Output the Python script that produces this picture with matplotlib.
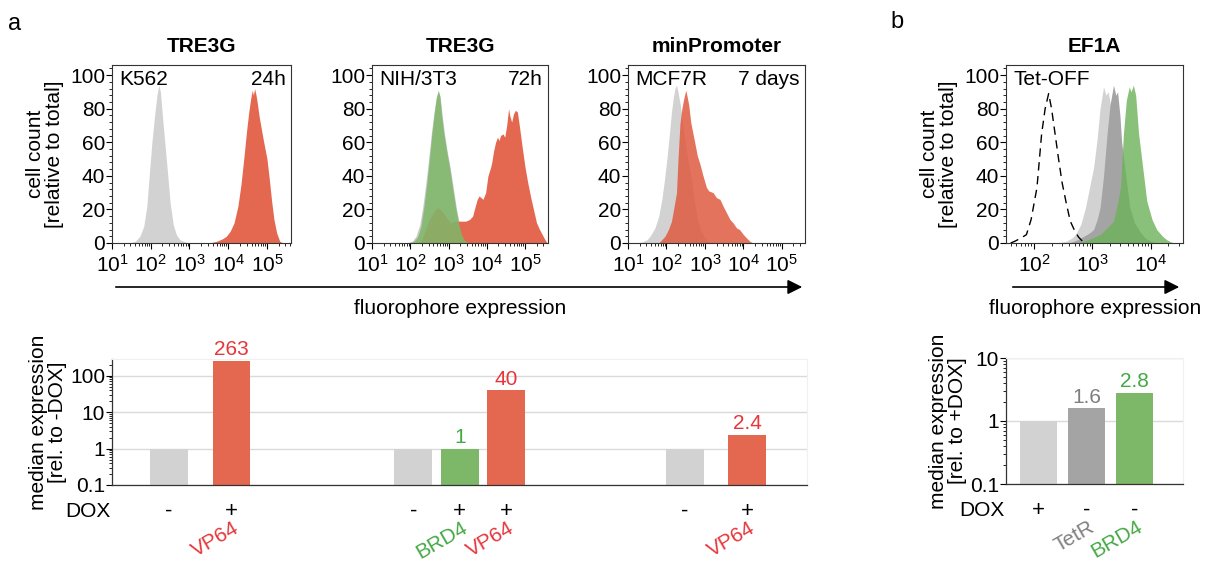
import matplotlib
matplotlib.use("Agg")
import matplotlib.pyplot as plt
import numpy as np
from matplotlib.ticker import MultipleLocator, LogLocator, NullFormatter, FixedLocator, FixedFormatter
from matplotlib.patches import FancyArrowPatch

plt.rcParams['font.family'] = ['Liberation Sans', 'DejaVu Sans']
plt.rcParams['font.size'] = 15

# ---------------- histogram data (log10 fluorescence, % of max) ----------------
k562_minus_logx = [1.45, 1.6, 1.72, 1.82, 1.9, 1.96, 2.03, 2.1, 2.16, 2.21, 2.25, 2.3, 2.37, 2.44, 2.5, 2.58, 2.66, 2.75, 2.9, 3.05]
k562_minus_y = [0, 1, 4, 10, 22, 40, 60, 76, 88, 94, 90, 76, 58, 40, 24, 11, 5, 2, 0.5, 0]
k562_vp64_logx = [3.5, 3.7, 3.85, 3.95, 4.05, 4.15, 4.25, 4.33, 4.4, 4.47, 4.53, 4.58, 4.62, 4.65, 4.68, 4.71, 4.74, 4.8, 4.9, 5.0, 5.06, 5.12, 5.18, 5.25, 5.33, 5.42]
k562_vp64_y = [0, 1, 2.5, 4, 7, 12, 22, 35, 50, 66, 78, 86, 91, 88, 92, 89, 85, 75, 62, 50, 38, 25, 14, 6, 1, 0]

nih_minus_logx = [1.9, 2.05, 2.15, 2.25, 2.33, 2.41, 2.48, 2.55, 2.62, 2.68, 2.73, 2.78, 2.84, 2.9, 2.97, 3.05, 3.13, 3.21, 3.3, 3.38, 3.48, 3.6]
nih_minus_y = [0, 1, 4, 11, 22, 36, 50, 65, 78, 87, 90, 87, 75, 64, 54, 44, 32, 20, 10, 4, 1, 0]
nih_brd4_logx = [1.95, 2.1, 2.2, 2.28, 2.36, 2.43, 2.5, 2.56, 2.62, 2.68, 2.73, 2.77, 2.82, 2.88, 2.95, 3.02, 3.1, 3.18, 3.26, 3.34, 3.42, 3.55]
nih_brd4_y = [0, 1, 4, 10, 22, 35, 50, 64, 76, 86, 91, 88, 76, 65, 55, 46, 34, 22, 12, 5, 1.5, 0]
nih_vp64_logx = [2.2, 2.3, 2.4, 2.5, 2.6, 2.7, 2.78, 2.86, 2.95, 3.05, 3.15, 3.25, 3.35, 3.45, 3.55, 3.63, 3.7, 3.75, 3.8, 3.85,
                 3.9, 3.97, 4.03, 4.1, 4.13, 4.18, 4.23, 4.28, 4.32, 4.36, 4.42, 4.47, 4.52, 4.57, 4.6, 4.65, 4.7, 4.75,
                 4.8, 4.85, 4.92, 5.0, 5.07, 5.15, 5.22, 5.3, 5.38, 5.45, 5.52, 5.58]
nih_vp64_y = [0, 2, 8, 14, 18, 21, 20, 18, 15, 12, 13, 13, 13, 13, 14, 16, 22, 26, 28, 27,
              26, 30, 40, 45, 48, 55, 60, 63, 61, 64, 65, 63, 70, 80, 76, 72, 77, 79,
              78, 70, 58, 45, 36, 27, 20, 12, 8, 5, 2, 0]

mcf_minus_logx = [1.2, 1.35, 1.5, 1.6, 1.7, 1.8, 1.88, 1.95, 2.02, 2.08, 2.13, 2.18, 2.22, 2.26, 2.3, 2.36, 2.43, 2.5, 2.57, 2.65, 2.72, 2.8, 2.9, 3.0, 3.15]
mcf_minus_y = [0, 0.5, 2, 5, 9, 16, 26, 38, 52, 66, 78, 87, 92, 94, 90, 82, 70, 58, 48, 38, 26, 15, 7, 3, 0]
mcf_vp64_logx = [1.8, 1.96, 2.05, 2.13, 2.2, 2.26, 2.3, 2.35, 2.4, 2.45, 2.5, 2.53, 2.58, 2.63, 2.69, 2.75, 2.8, 2.87, 2.95,
                 3.04, 3.1, 3.21, 3.3, 3.39, 3.47, 3.56, 3.65, 3.73, 3.82, 3.9, 4.0, 4.08, 4.17, 4.25]
mcf_vp64_y = [0, 4, 8, 13, 22, 30, 50, 71, 80, 86, 91, 88, 82, 72, 65, 58, 52, 47, 40,
              33, 31, 30, 27, 26, 22, 18, 14, 12, 9, 8, 5, 3, 1, 0]

ef1a_dox_logx = [1.6, 1.67, 1.78, 1.87, 1.95, 2.05, 2.13, 2.19, 2.25, 2.3, 2.36, 2.42, 2.48, 2.55, 2.62, 2.7, 2.76, 2.83, 2.9]
ef1a_dox_y = [0, 1, 3, 5, 14, 33, 65, 80, 89, 80, 65, 50, 36, 24, 13, 7, 3.6, 1, 0]
ef1a_plus_logx = [2.4, 2.55, 2.65, 2.71, 2.8, 2.88, 2.95, 3.02, 3.08, 3.13, 3.19, 3.23, 3.27, 3.32, 3.38, 3.45, 3.52, 3.6, 3.68, 3.76, 3.85, 3.95]
ef1a_plus_y = [0, 1, 3, 5, 11, 21, 33, 45, 62, 80, 93, 88, 90, 80, 65, 50, 35, 22, 12, 5, 2, 0]
ef1a_tetr_logx = [2.6, 2.75, 2.85, 2.95, 3.02, 3.08, 3.13, 3.19, 3.25, 3.3, 3.36, 3.4, 3.43, 3.47, 3.5, 3.57, 3.64, 3.72, 3.81, 3.9, 4.0, 4.1]
ef1a_tetr_y = [0, 2, 4, 6, 8, 14, 21, 40, 65, 82, 94, 88, 90, 76, 60, 40, 21, 12, 7, 3, 1, 0]
ef1a_brd4_logx = [2.7, 2.85, 3.0, 3.13, 3.25, 3.36, 3.42, 3.48, 3.53, 3.58, 3.63, 3.66, 3.7, 3.74, 3.79, 3.86, 3.93, 4.02, 4.1, 4.2, 4.27, 4.35, 4.45]
ef1a_brd4_y = [0, 1, 3, 5, 9, 13, 22, 33, 65, 85, 93, 90, 94, 88, 65, 45, 25, 14, 8, 4, 2, 0.5, 0]

# ---------------- bar data ----------------
bar_a_values = [1, 263, 1, 1, 40, 1, 2.4]
bar_a_labels = ['', '263', '', '1', '40', '', '2.4']
bar_a_dox = ['-', '+', '-', '+', '+', '-', '+']
bar_a_kind = ['ctrl', 'vp64', 'ctrl', 'brd4', 'vp64', 'ctrl', 'vp64']

bar_b_values = [1, 1.6, 2.8]
bar_b_labels = ['', '1.6', '2.8']
bar_b_dox = ['+', '-', '-']
bar_b_kind = ['ctrl', 'tetr', 'brd4']

GRAY = '#d2d2d2'
DGRAY = '#a4a4a4'
RED = '#e4674f'
GREEN = '#7db868'
TXT_RED = '#e6363b'
TXT_GREEN = '#45a845'
TXT_GRAY = '#7f7f7f'
bar_colors = {'ctrl': GRAY, 'vp64': RED, 'brd4': GREEN, 'tetr': DGRAY}
name_colors = {'vp64': TXT_RED, 'brd4': TXT_GREEN, 'tetr': TXT_GRAY}
names = {'vp64': 'VP64', 'brd4': 'BRD4', 'tetr': 'TetR'}

W, H = 1211, 561
fig = plt.figure(figsize=(W / 100, H / 100), dpi=100)


def px_axes(x0, y0, x1, y1):
    return fig.add_axes([x0 / W, 1 - y1 / H, (x1 - x0) / W, (y1 - y0) / H])


def style_hist(ax, xmin, xmax, title, ltxt, rtxt):
    ax.set_xscale('log')
    ax.set_xlim(10 ** xmin, 10 ** xmax)
    ax.set_ylim(0, 106)
    ax.yaxis.set_major_locator(MultipleLocator(20))
    ax.yaxis.set_minor_locator(MultipleLocator(4))
    ax.xaxis.set_major_locator(LogLocator(10, numticks=20))
    ax.xaxis.set_minor_locator(LogLocator(10, subs=np.arange(2, 10), numticks=20))
    ax.xaxis.set_minor_formatter(NullFormatter())
    ax.tick_params(direction='out', length=4, width=0.8, labelsize=15, pad=1)
    ax.tick_params(axis='x', pad=4)
    ax.tick_params(which='minor', length=2.5, width=0.6)
    for s in ax.spines.values():
        s.set_linewidth(0.8)
        s.set_color('#333333')
    ax.set_title(title, fontweight='bold', fontsize=15, pad=9)
    ax.text(0.04, 0.97, ltxt, transform=ax.transAxes, ha='left', va='top', fontsize=15)
    if rtxt:
        ax.text(0.97, 0.97, rtxt, transform=ax.transAxes, ha='right', va='top', fontsize=15)


def fill(ax, lx, y, color, alpha=1.0):
    ax.fill_between(np.power(10.0, lx), y, 0, color=color, alpha=alpha, lw=0)


# ---------------- histograms ----------------
ax1 = px_axes(112, 65, 291, 243)
fill(ax1, k562_minus_logx, k562_minus_y, GRAY)
fill(ax1, k562_vp64_logx, k562_vp64_y, RED)
style_hist(ax1, 1, 5.62, 'TRE3G', 'K562', '24h')
ax1.set_ylabel('cell count\n[relative to total]', fontsize=15, linespacing=1.0, labelpad=4)

ax2 = px_axes(372, 65, 548, 243)
fill(ax2, nih_minus_logx, nih_minus_y, '#c8c8c8')
fill(ax2, nih_vp64_logx, nih_vp64_y, RED)
fill(ax2, nih_brd4_logx, nih_brd4_y, GREEN, 0.85)
style_hist(ax2, 1, 5.6, 'TRE3G', 'NIH/3T3', '72h')

ax3 = px_axes(628, 65, 805, 243)
fill(ax3, mcf_minus_logx, mcf_minus_y, GRAY)
fill(ax3, mcf_vp64_logx, mcf_vp64_y, '#e05a40', 0.85)
style_hist(ax3, 1, 5.6, 'minPromoter', 'MCF7R', '7 days')

ax4 = px_axes(1006, 65, 1183, 243)
fill(ax4, ef1a_plus_logx, ef1a_plus_y, GRAY)
fill(ax4, ef1a_tetr_logx, ef1a_tetr_y, DGRAY)
fill(ax4, ef1a_brd4_logx, ef1a_brd4_y, '#6db259', 0.8)
ax4.plot(np.power(10.0, ef1a_dox_logx), ef1a_dox_y, color='black', lw=1, dashes=(6, 4))
style_hist(ax4, 1.52, 4.55, 'EF1A', 'Tet-OFF', '')
ax4.set_ylabel('cell count\n[relative to total]', fontsize=15, linespacing=1.0, labelpad=4)

# arrows
for x0, x1, xc in [(113, 805, 460), (1010, 1182, 1095)]:
    fig.add_artist(FancyArrowPatch((x0 / W, 1 - 287 / H), (x1 / W, 1 - 287 / H),
                                   transform=fig.transFigure, arrowstyle='-|>',
                                   mutation_scale=22, lw=1.2, color='black'))
    fig.text(xc / W, 1 - 308 / H, 'fluorophore expression', ha='center', va='center', fontsize=15)

fig.text(15 / W, 1 - 24 / H, 'a', ha='center', va='center', fontsize=17)
fig.text(897 / W, 1 - 22 / H, 'b', ha='center', va='center', fontsize=17)


# ---------------- bar charts ----------------
def style_bar(ax, ymax, ylabel):
    ax.set_yscale('log')
    ax.set_ylim(0.1, ymax)
    ticks = [t for t in [0.1, 1, 10, 100] if t <= ymax]
    ax.yaxis.set_major_locator(FixedLocator(ticks))
    ax.yaxis.set_major_formatter(FixedFormatter([('%g' % t) for t in ticks]))
    ax.yaxis.set_minor_locator(LogLocator(10, subs=np.arange(2, 10), numticks=20))
    ax.yaxis.set_minor_formatter(NullFormatter())
    ax.tick_params(axis='y', direction='out', length=4, width=0.8, labelsize=15, pad=1)
    ax.tick_params(axis='y', which='minor', length=2.5, width=0.6)
    ax.tick_params(axis='x', bottom=False, labelbottom=False)
    ax.yaxis.grid(True, which='major', color='#dadada', lw=1)
    ax.set_axisbelow(True)
    for s in ['top', 'right']:
        ax.spines[s].set_color('#f0f0f0')
    for s in ['left', 'bottom']:
        ax.spines[s].set_color('#333333')
        ax.spines[s].set_linewidth(0.9)
    ax.set_ylabel(ylabel, fontsize=15, linespacing=1.0, labelpad=2)


def draw_bars(ax, pos, values, labels, dox, kinds, width):
    ax.bar(pos, values, width=width, color=[bar_colors[k] for k in kinds])
    for p, v, lab, k in zip(pos, values, labels, kinds):
        if lab:
            ax.annotate(lab, xy=(p, v), xytext=(0, 1), textcoords='offset points',
                        ha='center', va='bottom', fontsize=15, color=name_colors[k])
    for p, d in zip(pos, dox):
        ax.annotate(d, xy=(p, 0), xycoords=('data', 'axes fraction'), xytext=(0, -19),
                    textcoords='offset points', ha='center', va='center', fontsize=16)
    ax.annotate('DOX', xy=(0, 0), xycoords='axes fraction', xytext=(-1, -19),
                textcoords='offset points', ha='right', va='center', fontsize=15)
    for p, k in zip(pos, kinds):
        if k != 'ctrl':
            ax.annotate(names[k], xy=(p, 0), xycoords=('data', 'axes fraction'), xytext=(1, -24),
                        textcoords='offset points', ha='right', va='top', rotation=30,
                        rotation_mode='anchor', fontsize=15, color=name_colors[k])


axa = px_axes(112, 359, 807, 485)
pos_a = [1.22, 2.57, 6.48, 7.48, 8.48, 12.32, 13.66]
draw_bars(axa, pos_a, bar_a_values, bar_a_labels, bar_a_dox, bar_a_kind, 0.81)
axa.set_xlim(0, 14.95)
style_bar(axa, 290, 'median expression\n[rel. to -DOX]')

axb = px_axes(1006, 358, 1183, 484)
pos_b = [0.68, 1.68, 2.68]
draw_bars(axb, pos_b, bar_b_values, bar_b_labels, bar_b_dox, bar_b_kind, 0.76)
axb.set_xlim(0, 3.69)
style_bar(axb, 10, 'median expression\n[rel. to +DOX]')

fig.savefig('out.png', dpi=100)
